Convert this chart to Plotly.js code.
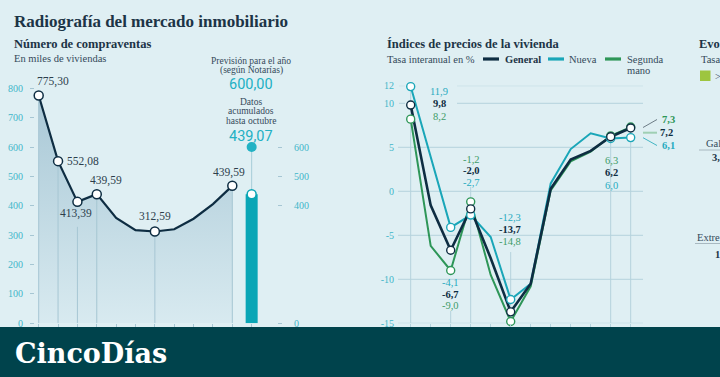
<!DOCTYPE html>
<html><head><meta charset="utf-8">
<script src="https://cdn.plot.ly/plotly-3.0.1.min.js"></script>
<style>html,body{margin:0;padding:0;background:#dfeff3}#c{width:720px;height:377px}</style>
</head><body><div id="c"></div>
<script>
// ---- Data ----
const salesYears = ['2007','2008','2009','2010','2011','2012','2013','2014','2015','2016','2017'];
const salesValues = [775.30, 552.08, 413.39, 439.59, 359, 317, 312.59, 320, 356, 406, 468];
const salesLabels = ['775,30','552,08','413,39','439,59','','','312,59','','','','439,59'];
const forecastValue = 600.00;
const accumulatedValue = 439.07;
const priceYears = ['2007','2008','2009','2010','2011','2012','2013','2014','2015','2016','2017','2018'];
const generalIdx = [9.8, -1.6, -6.7, -2.0, -7.6, -13.7, -10.5, 0.3, 3.6, 4.6, 6.2, 7.2];
const nuevaIdx   = [11.9, 4.0, -4.1, -2.7, -5.2, -12.3, -10.5, 0.9, 4.8, 6.6, 6.0, 6.1];
const segundaIdx = [8.2, -6.2, -9.0, -1.2, -9.5, -14.8, -10.8, 0.1, 3.4, 4.5, 6.3, 7.3];
const priceMarked = [0, 2, 3, 5, 10, 11];
const leftTicks = [0,100,200,300,400,500,600,700,800];
const rightTicks = [0,400,500,600];
const priceTicks = [-15,-10,-5,0,5,10,12];

// ---- helpers ----
const W = 720, H = 377;
const px = x => x / W, py = y => 1 - y / H;
const fmt = v => v.toFixed(1).replace('.', ',');
const NAVY = '#0e2d42', TEAL = '#1aa6b8', GREEN = '#2e9658', GRID = '#b4d2dc', TICKC = '#3fb6c9';
const TXT = '#34495a';

const sx = salesYears.map((_, i) => i);
const labeledSales = salesLabels.map((l, i) => l ? i : -1).filter(i => i >= 0);
const px3 = priceYears.map((_, i) => i);

const dropX = [], dropY = [];
labeledSales.forEach(i => {
  dropX.push(i, i, null);
  dropY.push(0, i === 2 ? salesValues[i] - 85 : salesValues[i], null);
});
const barIdx = salesYears.length;

const traces = [
  { x: sx, y: salesValues, type: 'scatter', mode: 'lines', fill: 'tozeroy',
    fillgradient: { type: 'vertical', colorscale: [[0, '#d8eaf0'], [1, '#a9c8d6']] },
    line: { color: NAVY, width: 2.2 }, hoverinfo: 'skip', xaxis: 'x', yaxis: 'y' },
  { x: dropX, y: dropY, type: 'scatter', mode: 'lines', line: { color: '#a6c6d3', width: 1 },
    hoverinfo: 'skip', xaxis: 'x', yaxis: 'y' },
  { x: [barIdx], y: [accumulatedValue], type: 'bar', width: 0.62, marker: { color: '#0aa6b6' },
    hoverinfo: 'skip', xaxis: 'x', yaxis: 'y2' },
  { x: [barIdx, barIdx], y: [accumulatedValue, forecastValue], type: 'scatter', mode: 'lines',
    line: { color: '#a6cdd8', width: 1 }, hoverinfo: 'skip', xaxis: 'x', yaxis: 'y2' },
  { x: [barIdx], y: [forecastValue], type: 'scatter', mode: 'markers',
    marker: { color: '#22b2c4', size: 10 }, hoverinfo: 'skip', xaxis: 'x', yaxis: 'y2', cliponaxis: false },
  { x: [barIdx], y: [accumulatedValue], type: 'scatter', mode: 'markers',
    marker: { color: '#ffffff', size: 9, line: { color: '#0aa6b6', width: 1.5 } }, hoverinfo: 'skip', xaxis: 'x', yaxis: 'y2', cliponaxis: false },
  { x: labeledSales, y: labeledSales.map(i => salesValues[i]), type: 'scatter', mode: 'markers',
    marker: { color: '#ffffff', size: 9, line: { color: NAVY, width: 1.5 } }, hoverinfo: 'skip', xaxis: 'x', yaxis: 'y', cliponaxis: false },
];

[[segundaIdx, GREEN, 2], [nuevaIdx, TEAL, 2], [generalIdx, NAVY, 2.6]].forEach(([arr, col, w]) => {
  traces.push({ x: px3, y: arr, type: 'scatter', mode: 'lines', line: { color: col, width: w },
    hoverinfo: 'skip', xaxis: 'x3', yaxis: 'y3', cliponaxis: false });
});
[[segundaIdx, GREEN], [nuevaIdx, TEAL], [generalIdx, NAVY]].forEach(([arr, col]) => {
  traces.push({ x: priceMarked, y: priceMarked.map(i => arr[i]), type: 'scatter', mode: 'markers',
    marker: { color: '#ffffff', size: 8, line: { color: col, width: 1.4 } },
    hoverinfo: 'skip', xaxis: 'x3', yaxis: 'y3', cliponaxis: false });
});

// ---- shapes ----
const shapes = [];
priceTicks.forEach(v => {
  const segs = (v >= 10) ? [[399, 405], [457, 643]] : [[398, 643]];
  segs.forEach(([a, b]) => shapes.push({ type: 'line', xref: 'paper', yref: 'y3', x0: px(a), x1: px(b), y0: v, y1: v,
    line: { color: GRID, width: 1 }, layer: 'below' }));
});
const vline = (i, a, b) => shapes.push({ type: 'line', xref: 'x3', yref: 'y3', x0: i, x1: i, y0: a, y1: b,
  line: { color: GRID, width: 1 }, layer: 'below' });
vline(0, -15, nuevaIdx[0]);
vline(2, -15, -13.6);
vline(3, -15, 0.5);
vline(5, -15, -6.9);
vline(10, -15, 6.1);
vline(11, -15, generalIdx[11]);
shapes.push({ type: 'line', xref: 'paper', yref: 'paper', x0: px(643), y0: py(127.5), x1: px(657), y1: py(119.5), line: { color: '#50606a', width: 0.8 } });
shapes.push({ type: 'line', xref: 'paper', yref: 'paper', x0: px(643), y0: py(132.7), x1: px(657), y1: py(132.7), line: { color: '#9fcfb3', width: 2 } });
shapes.push({ type: 'line', xref: 'paper', yref: 'paper', x0: px(643), y0: py(137.7), x1: px(657), y1: py(145.5), line: { color: TEAL, width: 0.8 } });
[[483, 499, NAVY], [548, 564, TEAL], [605, 621, GREEN]].forEach(([a, b, c]) =>
  shapes.push({ type: 'line', xref: 'paper', yref: 'paper', x0: px(a), x1: px(b), y0: py(59), y1: py(59), line: { color: c, width: 3.2 } }));
shapes.push({ type: 'rect', xref: 'paper', yref: 'paper', x0: px(700), x1: px(710.5), y0: py(70.5), y1: py(81), fillcolor: '#9dc53f', line: { width: 0 } });
shapes.push({ type: 'line', xref: 'paper', yref: 'paper', x0: px(699), x1: px(720), y0: py(150), y1: py(150), line: { color: '#a8b8c0', width: 1 } });
shapes.push({ type: 'line', xref: 'paper', yref: 'paper', x0: px(695), x1: px(720), y0: py(243.5), y1: py(243.5), line: { color: '#a8b8c0', width: 1 } });
shapes.push({ type: 'rect', xref: 'paper', yref: 'paper', x0: 0, x1: 1, y0: 0, y1: py(327), fillcolor: '#00434c', line: { width: 0 }, layer: 'above' });

// ---- annotations ----
const ann = [];
const A = (text, x, y, o = {}) => ann.push(Object.assign({ text, x: px(x), y: py(y), xref: 'paper', yref: 'paper',
  showarrow: false, xanchor: 'center', yanchor: 'middle', font: { family: 'Liberation Serif', size: 11, color: TXT } }, o));
const F = (size, color, extra = {}) => Object.assign({ family: 'Liberation Serif', size, color }, extra);

A('Radiografía del mercado inmobiliario', 12, 22, { xanchor: 'left', font: F(17, '#1c3446', { weight: 'bold' }) });
A('Número de compraventas', 12, 44, { xanchor: 'left', font: F(12.5, '#1c3446', { weight: 'bold' }) });
A('En miles de viviendas', 12, 58, { xanchor: 'left', font: F(10.5, TXT) });

const leftLabelPos = { 0: [53, 81], 1: [83, 161], 2: [76, 214], 3: [106, 181], 6: [155, 216], 10: [229, 172] };
labeledSales.forEach(i => A(salesLabels[i], leftLabelPos[i][0], leftLabelPos[i][1], { font: F(11.5, '#2c3e4c') }));

A('Previsión para el año', 251, 61, { font: F(9.5, TXT) });
A('(según Notarías)', 251, 70.5, { font: F(9.5, TXT) });
A(forecastValue.toFixed(2).replace('.', ','), 251, 85, { font: { family: 'Roboto', size: 14.5, color: '#22b0c3' } });
A('Datos', 251, 102, { font: F(9.5, TXT) });
A('acumulados', 251, 111.5, { font: F(9.5, TXT) });
A('hasta octubre', 251, 121, { font: F(9.5, TXT) });
A(accumulatedValue.toFixed(2).replace('.', ','), 251, 136, { font: { family: 'Roboto', size: 14.5, color: '#22b0c3' } });

A('Índices de precios de la vivienda', 385, 44, { xanchor: 'left', font: F(12.5, '#1c3446', { weight: 'bold' }) });
A('Tasa interanual en %', 385, 59, { xanchor: 'left', font: F(10.5, TXT) });
A('General', 503, 59, { xanchor: 'left', font: F(10.5, '#1c3446', { weight: 'bold' }) });
A('Nueva', 567, 59, { xanchor: 'left', font: F(10.5, TXT) });
A('Segunda', 625, 59, { xanchor: 'left', font: F(10.5, TXT) });
A('mano', 625, 70.5, { xanchor: 'left', font: F(10.5, TXT) });

const LG = '#3e9c68', LT = '#27abbf';
const lab3 = [
  [0, 439, [91.7, 103.3, 116], ['n', 'g', 's']],
  [2, 450, [282.3, 294, 305.7], ['n', 'g', 's']],
  [3, 471, [159, 170.7, 182.7], ['s', 'g', 'n']],
  [5, 509.5, [217.3, 229.3, 241.3], ['n', 'g', 's']],
  [10, 611, [160.3, 172.3, 185.7], ['s', 'g', 'n']],
];
const ser = { g: [generalIdx, NAVY, true], n: [nuevaIdx, LT, false], s: [segundaIdx, LG, false] };
lab3.forEach(([i, x, ys, order]) => order.forEach((k, j) => {
  const [arr, col, b] = ser[k];
  A(fmt(arr[i]), x, ys[j], { font: F(10.5, col, b ? { weight: 'bold' } : {}) });
}));
A(fmt(segundaIdx[11]), 660, 119, { xanchor: 'left', font: F(10.5, GREEN, { weight: 'bold' }) });
A(fmt(generalIdx[11]), 658, 132.7, { xanchor: 'left', font: F(10.5, NAVY, { weight: 'bold' }) });
A(fmt(nuevaIdx[11]), 660, 145.3, { xanchor: 'left', font: F(10.5, LT, { weight: 'bold' }) });

// third (cut-off) panel: only the visible fragments
A('Evo', 697, 44, { xanchor: 'left', font: F(12.5, '#1c3446', { weight: 'bold' }) });
A('Tasa', 699, 59, { xanchor: 'left', font: F(10.5, TXT) });
A('>', 713, 76, { xanchor: 'left', font: F(10, TXT) });
A('Gal', 703.5, 143, { xanchor: 'left', font: F(10.5, TXT) });
A('3,', 709.5, 157, { xanchor: 'left', font: F(10.5, '#1c3446', { weight: 'bold' }) });
A('Extre', 695, 237, { xanchor: 'left', font: F(10.5, TXT) });
A('1', 713, 254, { xanchor: 'left', font: F(10.5, '#1c3446', { weight: 'bold' }) });

A('CincoDías', 13, 353, { xanchor: 'left', font: { family: 'DejaVu Serif', size: 27, color: '#ffffff', weight: 'bold' } });

// ---- axes ----
const yDomLeft = [py(323.3), py(88.3)];
const xr0 = -(38.7 - 35) / 19.36;
const layout = {
  width: W, height: H, margin: { l: 0, r: 0, t: 0, b: 0 }, autosize: false,
  paper_bgcolor: '#dfeff3', plot_bgcolor: 'rgba(0,0,0,0)', showlegend: false,
  font: { family: 'Liberation Serif', color: TXT },
  xaxis: { domain: [px(35), px(282)], range: [xr0, xr0 + 247 / 19.36], anchor: 'y',
    showgrid: false, zeroline: false, showline: false, ticks: 'outside', ticklen: 4, tickcolor: '#a6c6d3',
    tickvals: salesYears.map((_, i) => i).concat([barIdx]), showticklabels: false, fixedrange: true },
  yaxis: { domain: yDomLeft, range: [0, 800], anchor: 'x', tickvals: leftTicks, ticktext: leftTicks.map(String),
    showgrid: false, zeroline: false, showline: false, ticks: 'outside', ticklen: 4, tickcolor: '#a6c6d3',
    ticklabelstandoff: 5, tickfont: { family: 'Liberation Serif', size: 10, color: TICKC }, fixedrange: true },
  yaxis2: { domain: yDomLeft, range: [0, 800], overlaying: 'y', side: 'right', anchor: 'free', position: px(277),
    tickvals: rightTicks, showgrid: false, zeroline: false, showline: false, ticks: 'outside', ticklen: 4,
    tickcolor: '#a6c6d3', ticklabelstandoff: 10, tickfont: { family: 'Liberation Serif', size: 10, color: TICKC }, fixedrange: true },
  xaxis3: { domain: [px(398), px(643)], range: [-0.635, -0.635 + 245 / 20], anchor: 'y3',
    showgrid: false, zeroline: false, showline: false, ticks: 'outside', ticklen: 4, tickcolor: GRID,
    tickvals: px3, showticklabels: false, fixedrange: true },
  yaxis3: { domain: [py(323.3), py(85.7)], range: [-15, 12], anchor: 'x3', tickvals: priceTicks,
    ticktext: priceTicks.map(String), showgrid: false, zeroline: false, showline: false, ticks: '',
    ticklabelstandoff: 3, tickfont: { family: 'Liberation Serif', size: 10, color: TICKC }, fixedrange: true },
  shapes, annotations: ann,
};
Plotly.newPlot('c', traces, layout, { staticPlot: true });
</script></body></html>
